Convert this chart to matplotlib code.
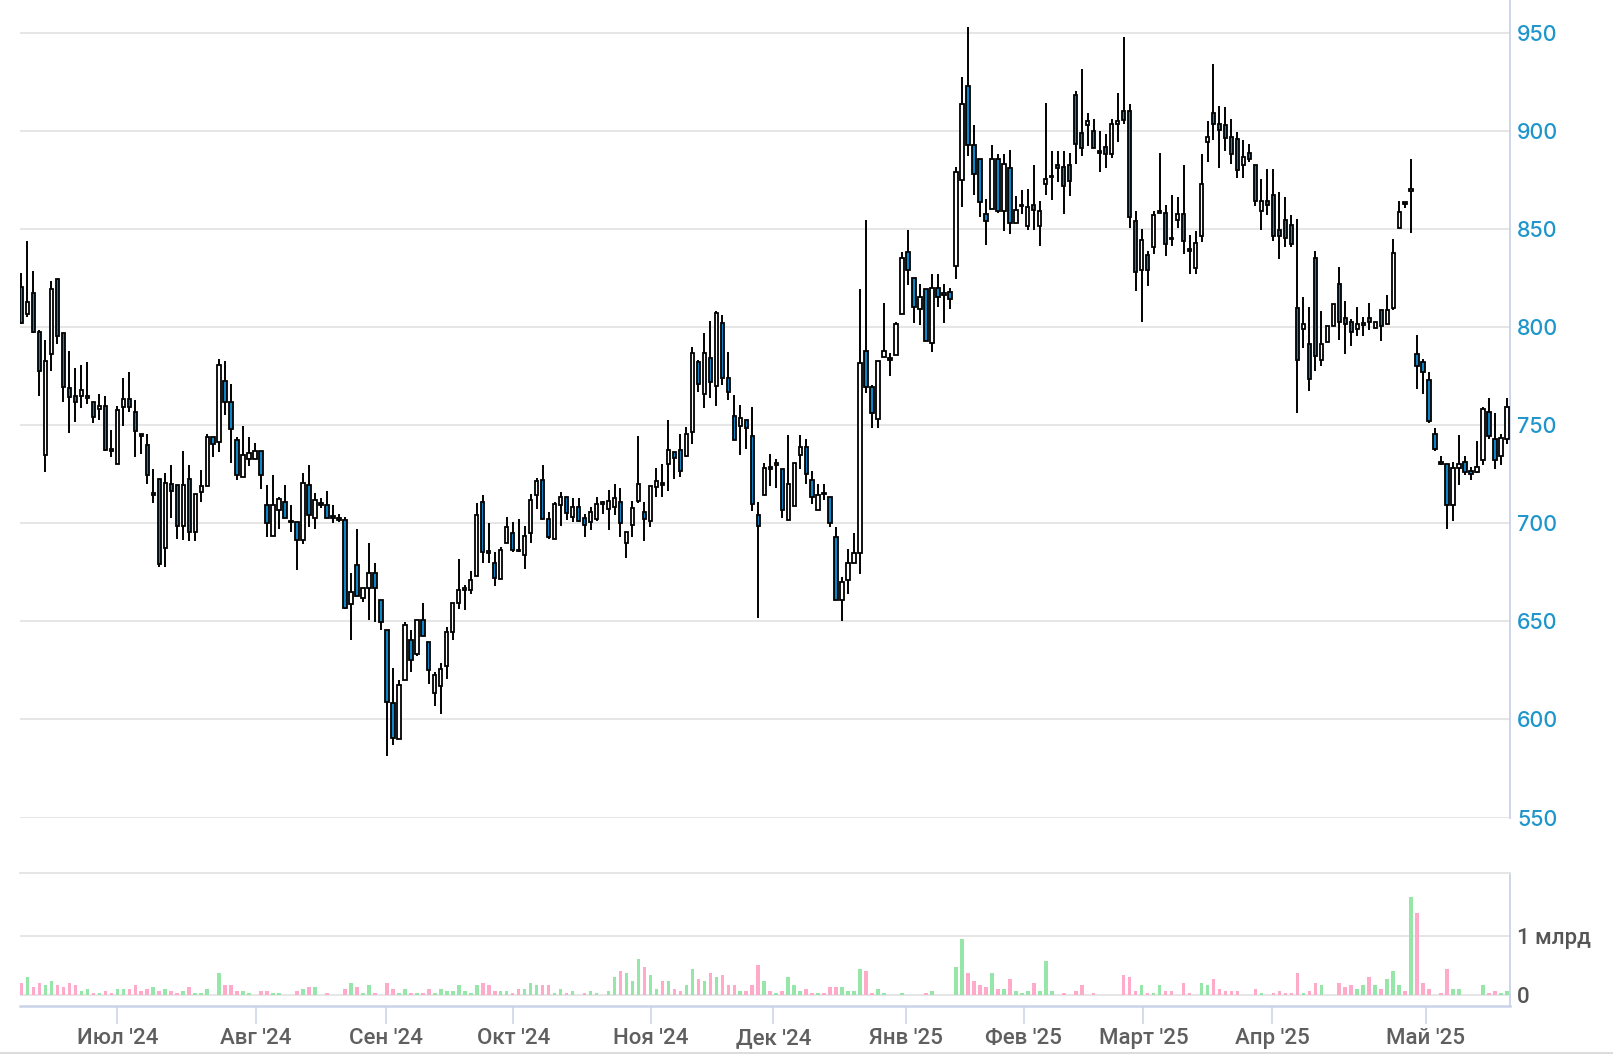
import matplotlib
matplotlib.use('Agg')
import matplotlib.pyplot as plt
from matplotlib.patches import Rectangle
from matplotlib.lines import Line2D

# daily candles, one per trading session (jun 2024 - may 2025)
opens = [820.5, 807, 817.4, 797.7, 734.8, 786.2, 824.8, 796.9, 769.1, 765.1,
         764.8, 764, 761.7, 758.3, 760, 738, 730.5, 759.5, 763.7, 756.6,
         745.5, 739.9, 714.6, 722.6, 687.5, 720.3, 719.4, 698.6, 722.6, 695.7,
         715.8, 719.2, 744.2, 741.5, 772.5, 761.7, 742.8, 723.6, 733, 733.1,
         736.8, 709.5, 693.7, 707.1, 711.1, 701, 700.9, 691.8, 719.6, 702.9,
         710.2, 709.4, 703.2, 702.9, 702, 658.8, 678.7, 662.2, 667.3, 674.5,
         661.2, 645.9, 608.2, 589.8, 620, 640.8, 633.3, 651, 639.6, 613.3,
         617.2, 627.4, 644.7, 659.2, 666.3, 666.3, 673.3, 711.1, 686, 679.6,
         671.9, 689.8, 694.9, 686.2, 684, 695.1, 714.7, 722.3, 702.3, 692,
         709.4, 713.7, 703.5, 708.6, 702.6, 700.6, 702.3, 710, 707.4, 708.6,
         710.8, 690, 699.2, 711.3, 705.7, 701.4, 718.8, 720, 730.1, 736.4,
         737.3, 734.4, 746.4, 782.6, 766, 784.6, 770.1, 802.2, 774.4, 754.9,
         749.6, 752.7, 744.6, 704.5, 714.7, 728.9, 730, 727.9, 702, 709,
         734.9, 738.8, 722.3, 707, 715, 713.5, 693, 661.2, 671.1, 679.7,
         685.1, 788, 769.7, 753.4, 784.7, 783.8, 786.1, 806.6, 838.4, 825.1,
         809.6, 819.5, 792, 819.9, 816.5, 817.9, 831.1, 875.3, 923.1, 892.8,
         885.7, 858, 860.4, 885.7, 859.4, 881.3, 853.4, 861.8, 851.9, 862.6,
         851.9, 873.3, 876.5, 882.7, 881.7, 882.7, 918.5, 899.2, 903, 900.1,
         889.6, 891.9, 888.7, 903.8, 910.3, 910.3, 854.1, 829.4, 836.7, 840.8,
         858.6, 858.3, 845.2, 854.9, 858, 839.4, 830.2, 846.8, 894.6, 909.5,
         904, 903.2, 897, 896.2, 882.7, 889, 882.7, 859.3, 864.4, 867.6,
         849.7, 854.9, 852, 810, 799, 791.5, 835.6, 783.3, 792.3, 800.9,
         822.1, 804.9, 802.9, 799, 801.3, 804.9, 799.8, 808.9, 801.7, 809.7,
         850.6, 864.2, 869.6, 786.4, 782.5, 773.4, 745.8, 731, 730.5, 709.5,
         728.5, 731.3, 727, 726.4, 732.2, 756.9, 742.9, 734.2, 743.3]
highs = [827.7, 844.3, 829, 798.6, 793.8, 823.8, 824.8, 796.9, 787.8, 779.4,
         780.6, 782.6, 761.7, 766, 765, 747.6, 760, 774.2, 777.5, 763,
         745.5, 745.4, 727.9, 722.6, 725.7, 730, 719.4, 737.2, 730, 714.9,
         727.4, 745.4, 744.2, 784, 783, 771.1, 743.9, 749.7, 744.2, 741,
         736.8, 719.7, 724.7, 713.6, 719.6, 709.4, 700.9, 725.5, 729.8, 715.6,
         712.8, 716.5, 709.4, 704.6, 703.4, 674.5, 697.1, 667.3, 690.1, 679.6,
         661.2, 645.9, 626.5, 620, 649.8, 645.9, 651, 659.5, 639.6, 624.3,
         628.9, 647.3, 659.2, 681.8, 668.5, 675.7, 710.2, 714.5, 700.3, 685.5,
         687.8, 703.4, 700.9, 702.2, 698.9, 715.1, 723.1, 729.6, 706, 710.8,
         716, 713.7, 713, 713, 704.8, 708.6, 713.4, 711.7, 717.1, 720.2,
         718.2, 695.5, 711.7, 744.6, 710.8, 719, 728.4, 730.5, 753, 736.4,
         745.8, 749.3, 789.9, 783.4, 797.1, 803.1, 808.5, 806.5, 787.7, 765.5,
         760.4, 752.7, 759.2, 710.8, 730.8, 735.3, 733, 727.9, 745.2, 730.9,
         745.2, 743.2, 726.9, 720, 720, 713.5, 698.4, 672.5, 687, 695,
         819.5, 855, 770.7, 783.1, 812.2, 786.7, 803, 838.4, 849.8, 825.1,
         821.9, 819.5, 827.1, 827.1, 821.9, 819.9, 881.7, 927.5, 953.4, 903.2,
         885.7, 865.3, 892.8, 888.2, 888.2, 890.6, 866.9, 870.3, 870.6, 883,
         864.7, 914.6, 890.2, 890.2, 890.2, 889, 920.5, 932, 909.5, 906.4,
         900.1, 898.4, 906.4, 919.7, 948.3, 913.7, 859.2, 850.3, 839.1, 859.2,
         889, 862.6, 867.7, 866.4, 883, 846.9, 849, 888.2, 905.2, 934.2,
         912.9, 912.5, 906.4, 899.6, 895.8, 893.3, 882.7, 875.7, 881, 881,
         869.3, 866.4, 857.4, 855.2, 815.3, 810.6, 839, 808.3, 800.9, 811.9,
         830.7, 813.5, 804.1, 810.2, 805.1, 812.3, 802.6, 808.9, 816.5, 845,
         864.6, 864.2, 886, 796.1, 783.8, 777.3, 748.9, 734.4, 730.5, 731.3,
         745, 734.4, 728.8, 742.3, 759.5, 764.2, 756.5, 745.8, 764.2]
lows = [801.5, 805.4, 797, 765.1, 726.2, 777.7, 791.7, 762.2, 745.9, 751.9,
        759, 761, 751.1, 753, 737, 734, 730.5, 749.7, 756.6, 734,
        735.2, 720.2, 710.3, 678, 677.7, 702.6, 692, 691.8, 691, 691,
        711.1, 719.2, 733.9, 736.3, 755.2, 730.8, 722.3, 723.6, 729.1, 733,
        717.5, 693, 693.7, 697.4, 702.9, 695.7, 676.2, 689.3, 698.3, 697.4,
        707.7, 702.9, 700, 700.8, 656.6, 640.5, 663.1, 660, 650.7, 649.8,
        645.6, 581.3, 587.2, 589.8, 620, 624.3, 632.3, 642.7, 618, 606.8,
        602.6, 620.9, 640.5, 656.6, 655.8, 663.8, 673.3, 679.6, 679.6, 668,
        671.9, 689.8, 685.5, 685.5, 676.6, 690, 707.4, 702.3, 692, 692,
        698.9, 701.8, 700.9, 700.9, 692.9, 696.8, 701.1, 704.8, 696.8, 704.5,
        692.9, 682.6, 692.9, 710.3, 691, 698, 713.4, 713.4, 716.8, 722.8,
        723.6, 733.9, 740.4, 766.9, 758.7, 763.8, 759.8, 770.6, 762.9, 742.4,
        735.1, 738.2, 706.5, 651.9, 714.7, 718.9, 718, 702.8, 702, 709,
        727.9, 720, 710, 707, 712, 698, 661.2, 650.2, 664, 679.7,
        674.1, 766.7, 748.8, 748.8, 784.7, 775.3, 786.1, 806.6, 821.5, 802,
        801.2, 793.2, 787.6, 810.6, 802, 809.2, 824.5, 861.4, 887.3, 867.7,
        856.4, 841.8, 860.4, 858.4, 849.4, 847.4, 853.4, 857.8, 849.5, 849.5,
        841.3, 867.7, 864.8, 874.2, 857.8, 866.9, 883.4, 887.3, 892.4, 891.6,
        879.1, 881.3, 886.5, 894.6, 903.8, 850.7, 818.8, 802.5, 820.9, 837.4,
        858.3, 836.2, 841.3, 850.7, 837.4, 827.2, 827.2, 843.5, 884.4, 895.5,
        881.3, 890.2, 883.4, 876.2, 876.2, 884.4, 861.8, 849.5, 857.2, 844,
        834.9, 841.2, 841.2, 756.4, 789.3, 767.6, 777.9, 780.2, 792.3, 800.9,
        793.5, 786.2, 790.5, 795.6, 795.6, 798.8, 799.8, 793.2, 801.7, 808.9,
        850.6, 860.8, 848.4, 768.5, 765.8, 751.3, 737, 729.6, 697.3, 701,
        719.6, 724.5, 722, 725.5, 730, 743.3, 727.9, 730, 740.7]
closes = [802, 813, 797.7, 778, 783.1, 819.5, 795.7, 769.4, 764.6, 761.7,
          768.1, 764.5, 754.3, 760, 737.7, 737, 757.8, 763.7, 759.5, 747.1,
          744.5, 724.5, 714.8, 679.1, 720.6, 716.3, 698.6, 719.4, 695.7, 714.9,
          719.2, 744.2, 740.6, 780.9, 762, 748, 724.5, 734.9, 735.8, 736.8,
          724.9, 700, 709.4, 712.4, 702.9, 700.5, 691.8, 720.4, 704.3, 712.2,
          709.4, 702.9, 702.9, 702, 657, 665.1, 663.1, 667.3, 674.5, 667.3,
          649.8, 609, 590.6, 617.5, 648.1, 630.3, 651, 642.7, 625.2, 622.6,
          625.5, 644.7, 659.2, 666.3, 666.6, 671.4, 704.3, 685.5, 685, 672.3,
          686.7, 698, 686.4, 685.9, 693.4, 712, 721.9, 702.3, 692.9, 710,
          713.7, 705.2, 708.6, 701.1, 699.4, 706, 710, 710.2, 711.7, 713,
          700.2, 695.5, 707.7, 720.2, 702.3, 719, 721.9, 719.7, 737.6, 733.5,
          727, 745.8, 786.8, 771.1, 786.8, 772.3, 807.3, 774, 767.2, 742.4,
          753.9, 748.7, 710, 698.5, 728.2, 727.9, 730.2, 707, 719.9, 730.9,
          738.8, 725.1, 713.5, 714.3, 714.9, 700, 661.2, 670.1, 679.7, 685.1,
          781.7, 769.7, 756.2, 783.1, 788, 783.5, 801.6, 835.5, 829.1, 810.6,
          815.5, 793.2, 819.9, 815.5, 816.6, 814.5, 879.3, 914.1, 892.8, 878.3,
          864, 854.4, 885.7, 859.4, 883.3, 853.4, 859.8, 862, 861.2, 860,
          859.2, 875.7, 876.7, 881.3, 872.3, 874.5, 893.8, 891.6, 905.2, 891.6,
          889.2, 888.7, 903.5, 905.2, 906, 856.1, 828.5, 844.7, 829.4, 857.2,
          858.8, 842.7, 845, 858, 843.9, 839.2, 843, 873.3, 897, 904,
          900.6, 896.7, 888.5, 880.5, 886.8, 885.9, 864.3, 864.4, 862.2, 846.8,
          846.7, 845.5, 842.4, 783.3, 801.7, 773.9, 785.5, 791.5, 800.9, 811.9,
          802.6, 801.7, 797.8, 801.5, 801.6, 802.6, 802.6, 800.9, 808.9, 837.8,
          859.1, 863, 870, 780.4, 777.3, 752.3, 738.2, 730.5, 709.5, 728.5,
          730.2, 726.2, 725.4, 728.8, 758.3, 744.5, 732.2, 743.6, 759.2]
# traded value, billions of rubles
volumes = [0.207, 0.307, 0.14, 0.207, 0.173, 0.24, 0.173, 0.14, 0.207, 0.173,
           0.073, 0.106, 0.04, 0.04, 0.073, 0.04, 0.106, 0.106, 0.106, 0.173,
           0.073, 0.106, 0.14, 0.073, 0.106, 0.073, 0.04, 0.073, 0.14, 0.04,
           0.04, 0.106, 0.01, 0.374, 0.173, 0.173, 0.073, 0.073, 0.04, 0.01,
           0.073, 0.073, 0.04, 0.04, 0, 0, 0.073, 0.106, 0.14, 0.14,
           0, 0.04, 0, 0, 0.106, 0.207, 0.14, 0.04, 0.173, 0.04,
           0, 0.207, 0.106, 0.04, 0.106, 0.04, 0.04, 0.04, 0.106, 0.04,
           0.106, 0.073, 0.073, 0.173, 0.073, 0.04, 0.173, 0.207, 0.173, 0.073,
           0.073, 0.073, 0.04, 0.106, 0.106, 0.207, 0.173, 0.173, 0.173, 0.04,
           0.106, 0.04, 0.073, 0, 0.04, 0.073, 0.04, 0, 0.073, 0.307,
           0.408, 0.374, 0.24, 0.61, 0.475, 0.34, 0.106, 0.24, 0.24, 0.106,
           0.073, 0.173, 0.44, 0.274, 0.24, 0.374, 0.307, 0.34, 0.173, 0.173,
           0.073, 0.073, 0.173, 0.508, 0.24, 0.073, 0.04, 0.073, 0.307, 0.173,
           0.073, 0.106, 0.04, 0.04, 0.04, 0.14, 0.14, 0.14, 0.073, 0.073,
           0.44, 0.408, 0.04, 0.106, 0.04, 0, 0, 0.04, 0, 0,
           0, 0.04, 0.073, 0, 0, 0, 0.475, 0.944, 0.374, 0.24,
           0.173, 0.14, 0.374, 0.106, 0.106, 0.274, 0.073, 0.04, 0.073, 0.207,
           0.073, 0.575, 0.073, 0, 0.04, 0, 0.073, 0.173, 0, 0.04,
           0, 0, 0, 0, 0.34, 0.307, 0.073, 0.173, 0.04, 0.04,
           0.173, 0.073, 0.073, 0, 0.207, 0.04, 0, 0.207, 0.173, 0.274,
           0.106, 0.073, 0.073, 0.073, 0, 0, 0.106, 0.04, 0, 0.04,
           0.073, 0.04, 0.04, 0.374, 0.04, 0.073, 0.207, 0.173, 0, 0,
           0.207, 0.14, 0.173, 0.106, 0.173, 0.307, 0.173, 0.106, 0.274, 0.408,
           0.173, 0.073, 1.65, 1.38, 0.207, 0.106, 0, 0.04, 0.44, 0.106,
           0.106, 0, 0, 0, 0.173, 0.04, 0.073, 0.04, 0.073]

month_labels = ["Июл '24", "Авг '24", "Сен '24", "Окт '24", "Ноя '24", "Дек '24",
                "Янв '25", "Фев '25", "Март '25", "Апр '25", "Май '25"]
month_pos = [16.0, 39.1, 60.8, 82.1, 105.1, 125.5, 147.6, 167.3, 187.3, 208.8, 234.4]
price_ticks = [550, 600, 650, 700, 750, 800, 850, 900, 950]

W, H = 1613, 1054
blue = '#0e86c6'
grid_c = '#e4e4e4'
axis_c = '#c9d3e8'

fig = plt.figure(figsize=(W / 100, H / 100), dpi=100)
left, width = 20 / W, 1490 / W
ax = fig.add_axes([left, (H - 818) / H, width, 818 / H])
axv = fig.add_axes([left, (H - 1005.7) / H, width, (1005.7 - 873.3) / H], sharex=ax)

bw = 0.56
for i in range(len(opens)):
    o, h, l, c = opens[i], highs[i], lows[i], closes[i]
    ax.vlines(i, l, h, color='black', lw=1.4, zorder=2)
    body = max(abs(c - o), 0.8)
    fc = 'white' if c >= o else blue
    ax.add_patch(Rectangle((i - bw / 2, min(o, c)), bw, body, facecolor=fc,
                           edgecolor='black', lw=1.3, zorder=3))

ax.set_xlim(-0.25, 248.5)
ax.set_ylim(549.75, 967.0)
for s in ['left', 'top', 'bottom']:
    ax.spines[s].set_visible(False)
ax.spines['right'].set_color(axis_c)
ax.spines['right'].set_linewidth(1.3)
ax.yaxis.tick_right()
ax.set_yticks(price_ticks)
ax.set_yticklabels([str(t) for t in price_ticks], family='Inter', weight='medium',
                   color='#1e96cc')
ax.tick_params(axis='y', length=0, pad=5, labelsize=15.5)
ax.tick_params(axis='x', which='both', bottom=False, labelbottom=False)
ax.grid(axis='y', color=grid_c, lw=1.3)
ax.set_axisbelow(True)

vcol = ['#96e6aa' if closes[i] >= opens[i] else '#ffaac8' for i in range(len(volumes))]
axv.bar(range(len(volumes)), volumes, width=0.6, color=vcol, zorder=2)
axv.set_ylim(-0.174, 2.047)
axv.spines['left'].set_visible(False)
axv.spines['top'].set_color(grid_c)
axv.spines['top'].set_linewidth(1.3)
axv.spines['right'].set_color(axis_c)
axv.spines['right'].set_linewidth(1.3)
axv.spines['bottom'].set_color(axis_c)
axv.spines['bottom'].set_linewidth(1.8)
axv.yaxis.tick_right()
axv.set_yticks([0, 1])
axv.set_yticklabels(['0', '1 млрд'], family='Roboto', weight='medium', color='#555555')
axv.tick_params(axis='y', length=0, pad=5, labelsize=16)
axv.grid(axis='y', color=grid_c, lw=1.3)
axv.set_axisbelow(True)
axv.set_xticks(month_pos)
axv.set_xticklabels(month_labels, family='Roboto', weight='medium', color='#5f5f5f')
axv.tick_params(axis='x', length=13, width=1.1, color=axis_c, pad=3, labelsize=16)

fig.add_artist(Line2D([0, 1], [1.3 / H, 1.3 / H], transform=fig.transFigure,
                      color='#d6d6d6', lw=1.2))

fig.savefig('out.png', dpi=100)
